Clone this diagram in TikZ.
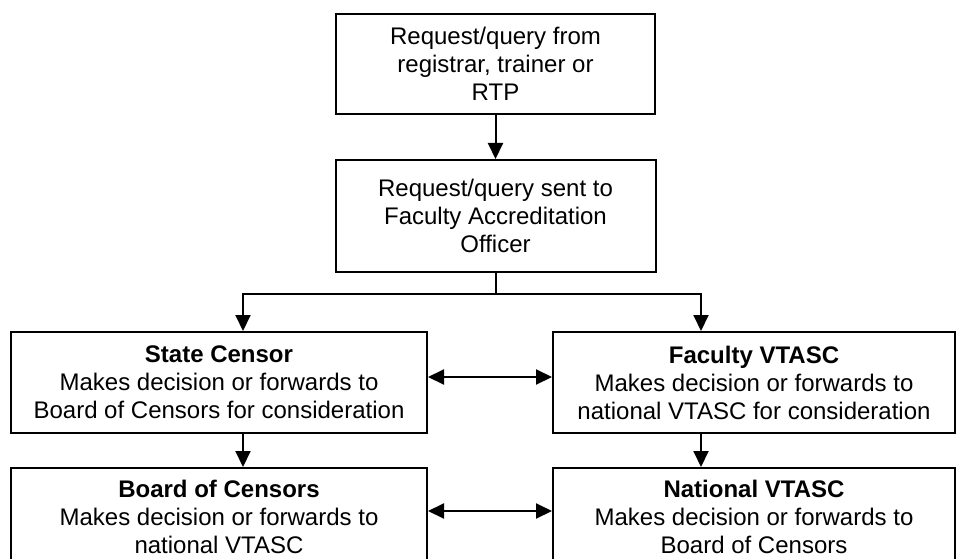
\documentclass[tikz,border=0pt]{standalone}
\usepackage{fontspec}
\setmainfont{Liberation Sans}
\usepackage{tikz}
\usetikzlibrary{positioning,arrows.meta,calc}

\begin{document}
\begin{tikzpicture}[
  x=1pt, y=-1pt,
  box/.style={draw, line width=2pt, align=center, inner sep=2pt,
    font=\fontsize{24}{28}\selectfont},
  arr/.style={-{Triangle[length=16pt,width=15pt]}, line width=2pt},
  dblarr/.style={{Triangle[length=16pt,width=15pt]}-{Triangle[length=16pt,width=15pt]}, line width=2pt}
]
\useasboundingbox (0,0) rectangle (956,559);
\clip (0,0) rectangle (956,559);

\node[box, minimum width=319pt, minimum height=100pt] (req) at (495.5,64)
  {Request/query from\\registrar, trainer or\\RTP};
\node[box, minimum width=320pt, minimum height=112pt, below=44pt of req] (fao)
  {Request/query sent to\\Faculty Accreditation\\Officer};
\node[box, minimum width=416pt, minimum height=101pt] (state) at (219,382.5)
  {\textbf{State Censor}\\Makes decision or forwards to\\Board of Censors for consideration};
\node[box, minimum width=402pt, minimum height=101pt] (fvtasc) at (754,382.5)
  {\textbf{Faculty VTASC}\\Makes decision or forwards to\\national VTASC for consideration};
\node[box, minimum width=416pt, minimum height=98pt, below=33pt of state] (board)
  {\textbf{Board of Censors}\\Makes decision or forwards to\\national VTASC};
\node[box, minimum width=402pt, minimum height=98pt, below=33pt of fvtasc] (nvtasc)
  {\textbf{National VTASC}\\Makes decision or forwards to\\Board of Censors};

% branch columns
\coordinate (lx) at (243,0);
\coordinate (rx) at (701,0);

\draw[arr] (req) -- (fao);
\draw[line width=2pt] (fao.south) -- (fao.south |- 0,294) coordinate (split);
\draw[arr] (split) -| (lx |- state.north);
\draw[arr] (split) -| (rx |- fvtasc.north);
\draw[arr] (lx |- state.south) -- (lx |- board.north);
\draw[arr] (rx |- fvtasc.south) -- (rx |- nvtasc.north);

\draw[dblarr] ([yshift=5.5pt]state.east) -- ([yshift=5.5pt]state.east -| fvtasc.west);
\draw[dblarr] ([yshift=6pt]board.east) -- ([yshift=6pt]board.east -| nvtasc.west);
\end{tikzpicture}
\end{document}
